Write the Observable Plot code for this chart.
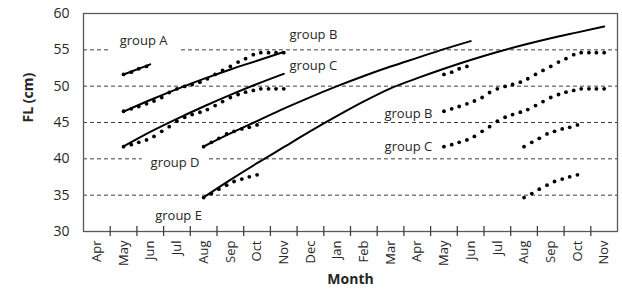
<!DOCTYPE html>
<html><head><meta charset="utf-8">
<script src="https://cdn.jsdelivr.net/npm/d3@7"></script>
<script src="https://cdn.jsdelivr.net/npm/@observablehq/plot@0.6"></script>
<style>body{margin:0;background:#fff;} svg{display:block;}</style>
</head><body><div id="chart"></div>
<script>
// Category labels (two seasons, Apr .. Nov of the following year)
const months = ["Apr","May","Jun","Jul","Aug","Sep","Oct","Nov","Dec","Jan","Feb","Mar","Apr","May","Jun","Jul","Aug","Sep","Oct","Nov"];
const yTicks = [30,35,40,45,50,55,60];
const gridLevels = [35,40,45,50,55];

// Observed fork length (dots): offsets in months from the first month of each series
const offsetsLong = [0,0.29,0.57,0.86,1.14,1.43,1.71,2,2.29,2.57,2.86,3.14,3.43,3.71,4,4.29,4.57,4.86,5.14,5.43,5.71,6];
const offsetsShort = [0,0.29,0.57,0.86,1.14,1.43,1.71,2];
const offsetsA = [0,0.29,0.57,0.86];
const obsA = [51.62,51.93,52.4,52.72];
const obsB = [46.55,46.88,47.2,47.57,47.96,48.44,49.13,49.64,49.96,50.23,50.55,51.02,51.62,52.17,52.72,53.31,53.78,54.34,54.61,54.61,54.61,54.61];
const obsC = [41.67,41.95,42.27,42.6,43.09,43.78,44.43,45.17,45.72,46.09,46.41,46.78,47.33,47.88,48.44,48.85,49.17,49.41,49.64,49.64,49.64,49.64];
const obsD = [41.67,42.27,42.82,43.43,43.78,44.12,44.34,44.67];
const obsE = [34.67,35.22,35.83,36.38,36.88,37.21,37.53,37.8];
const obsStart = {A: 1, B: 1, C: 1, D: 4, E: 4}; // May, May, May, Aug, Aug
const seasonShift = [0, 12];

// Fitted growth curves (solid lines): month index and length
const lineAx = [1,2];            const lineAy = [51.6,53.0];
const lineBx = [1,2,3,4,5,6,7];  const lineBy = [46.5,48.1,49.6,51.0,52.3,53.5,54.7];
const lineCx = [1,2,3,4,5,6,7];  const lineCy = [41.7,43.7,45.5,47.2,48.8,50.3,51.7];
const lineDx = [4,5,6,7,8,9,10,11,12,13,14];
const lineDy = [41.7,43.5,45.2,46.9,48.5,50.0,51.4,52.7,53.9,55.1,56.2];
const lineEx = [4,5,6,7,8,9,10,11,12,13,14,15,16,17,18,19];
const lineEy = [34.7,37.1,39.4,41.6,43.8,45.9,47.9,49.7,51.1,52.4,53.6,54.7,55.7,56.6,57.4,58.2];

// Group labels
const labelText = ["group A","group B","group C","group D","group E","group B","group C"];
const labelX = [1.75,8.11,8.11,2.93,3.06,11.67,11.67];
const labelY = [56.2,57.0,52.85,39.46,32.15,46.2,41.67];
const labelGap = [true,false,false,true,false,false,false];

// ---- build tables
const dots = [];
const obs = {A:[offsetsA,obsA], B:[offsetsLong,obsB], C:[offsetsLong,obsC], D:[offsetsShort,obsD], E:[offsetsShort,obsE]};
for (const g of Object.keys(obs)) {
  const [off, vals] = obs[g];
  for (const s of seasonShift) off.forEach((o,i) => dots.push({g, x: obsStart[g] + s + o, y: vals[i]}));
}
const lines = [];
[["A",lineAx,lineAy],["B",lineBx,lineBy],["C",lineCx,lineCy],["D",lineDx,lineDy],["E",lineEx,lineEy]]
  .forEach(([g,xs,ys]) => xs.forEach((x,i) => lines.push({g, x, y: ys[i]})));
const labels = labelText.map((t,i) => ({t, x: labelX[i], y: labelY[i], gap: labelGap[i]}));
const catIdx = months.map((_,i) => i);
const bounds = months.slice(1).map((_,i) => i + 0.5);

const font = "'Open Sans', 'DejaVu Sans', sans-serif";
const chart = Plot.plot({
  width: 622, height: 293,
  marginLeft: 83, marginRight: 5, marginTop: 13, marginBottom: 62,
  style: {fontFamily: font, background: "#fff", color: "#262626"},
  x: {domain: [-0.5, 19.5]},
  y: {domain: [30, 60]},
  marks: [
    Plot.ruleY(gridLevels, {stroke: "#404040", strokeWidth: 1, strokeDasharray: "4,3"}),
    Plot.text(labels.filter(d => d.gap), {x: "x", y: "y", text: "t", fontSize: 13, fill: "white", stroke: "white", strokeWidth: 20, strokeLinejoin: "miter"}),
    Plot.text(labels, {x: "x", y: "y", text: "t", fontSize: 13, fill: "#262626"}),
    Plot.line(lines, {x: "x", y: "y", z: "g", stroke: "black", strokeWidth: 2, curve: "monotone-x"}),
    Plot.dot(dots, {x: "x", y: "y", r: 1.9, fill: "black", stroke: null}),
    Plot.frame({stroke: "#595959", strokeWidth: 1.3}),
    Plot.tickX(bounds, {x: d => d, stroke: "#404040", strokeWidth: 1.3, insetTop: 213, insetBottom: -5}),
    Plot.axisY({ticks: yTicks, tickSize: 0, tickPadding: 14, fontSize: 14, label: null}),
    Plot.axisX({ticks: catIdx, tickFormat: i => months[i], tickSize: 0, tickRotate: -90, tickPadding: 9, fontSize: 13, label: null}),
    Plot.text(["FL (cm)"], {frameAnchor: "left", dx: -55, rotate: -90, fontSize: 14, fontWeight: "bold", fill: "#262626"}),
    Plot.text(["Month"], {frameAnchor: "bottom", dy: 52, fontSize: 14, fontWeight: "bold", fill: "#262626"})
  ]
});
document.getElementById("chart").appendChild(chart);
</script>
</body></html>
